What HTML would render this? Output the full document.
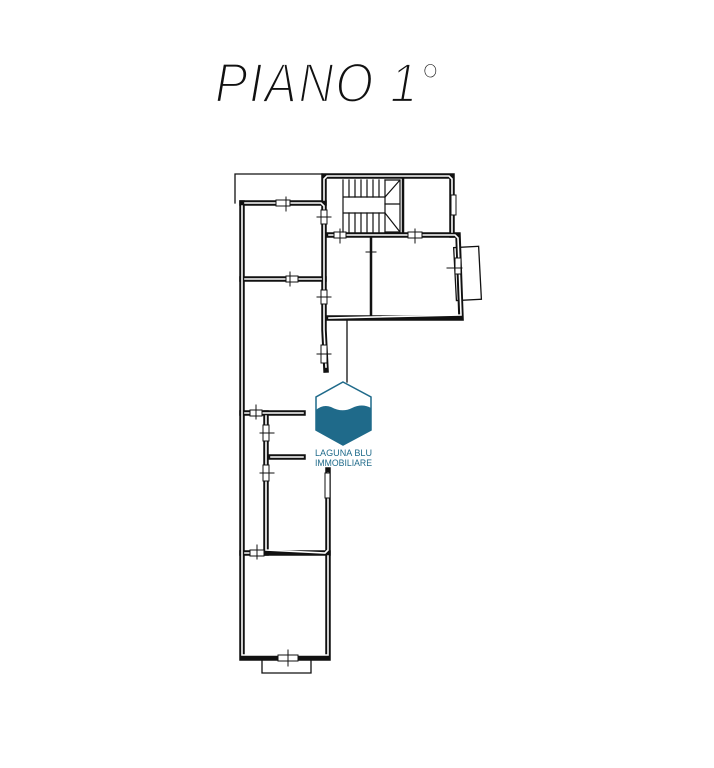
<!DOCTYPE html>
<html><head><meta charset="utf-8"><style>
html,body{margin:0;padding:0;background:#fff}
svg{display:block}
</style></head><body>
<svg width="714" height="768" viewBox="0 0 714 768" xmlns="http://www.w3.org/2000/svg">
<rect width="714" height="768" fill="#fff"/>
<text x="215" y="102" font-family="Liberation Sans, sans-serif" font-style="italic" font-size="56" textLength="225" lengthAdjust="spacingAndGlyphs" fill="#111" stroke="#fff" stroke-width="2.2" letter-spacing="2">PIANO 1°</text>

<g fill="none" stroke-linecap="square">
<g stroke="#111" stroke-width="1.3">
<path d="M235 174 L322 174 M235 174 L235 203"/>
<path d="M347 318 L347 382"/>
<rect x="455" y="247" width="25" height="53" transform="rotate(-3 467 273)"/>
<path d="M262 658 L262 673 L311 673 L311 658"/>
</g>
<g stroke="#111" stroke-width="5.5">
<path d="M242 203 L242 658 L328 658 L328 553"/>
<path d="M242 203 L324 203 L324 330 L326 370"/>
<path d="M324 203 L324 176 L452 176 L452 235"/>
<path d="M326 235 L458 235 L461 318 L326 318"/>
<path d="M242 279 L324 279"/>
<path d="M242 413 L303 413"/>
<path d="M266 413 L266 553 L328 553 L328 470"/>
<path d="M268 457 L303 457"/>
<path d="M242 553 L266 553"/>
</g>
<g stroke="#111" stroke-width="2.5">
<path d="M403 178 L403 233"/>
<path d="M371 238 L371 316"/>
</g>
<g stroke="#fff" stroke-width="1.6">
<path d="M242 206 L242 655 L328 655 L328 556"/>
<path d="M245 203 L321 203 L324 206 L324 330 L326 367"/>
<path d="M324 200 L324 179 L327 176 L449 176 L452 179 L452 232"/>
<path d="M329 235 L455 235 L458 238 L461 315 L329 318"/>
<path d="M245 279 L321 279"/>
<path d="M245 413 L303 413"/>
<path d="M266 416 L266 550 L325 553 L328 550 L328 473"/>
<path d="M271 457 L303 457"/>
<path d="M245 553 L263 553"/>
</g>
<g fill="#fff" stroke="#111" stroke-width="1">
<rect x="276" y="200" width="14" height="6"/>
<rect x="321" y="210" width="6" height="14"/>
<rect x="334" y="232" width="12" height="6"/>
<rect x="408" y="232" width="14" height="6"/>
<rect x="286" y="276" width="12" height="6"/>
<rect x="321" y="290" width="6" height="14"/>
<rect x="321" y="345" width="6" height="18"/>
<rect x="250" y="410" width="12" height="6"/>
<rect x="263" y="425" width="6" height="16"/>
<rect x="263" y="465" width="6" height="16"/>
<rect x="250" y="550" width="14" height="6"/>
<rect x="278" y="655" width="20" height="6"/>
<rect x="325" y="473" width="5" height="25"/>
<rect x="455" y="258" width="6" height="16"/>
<rect x="451" y="195" width="5" height="20"/>
</g>
<g stroke="#111" stroke-width="1">
<path d="M286 197 v14 M317 217 h14 M340 229 v14 M415 229 v14 M290 272 v14 M317 297 h14 M317 354 h14 M256 405 v14 M260 433 h14 M260 473 h14 M257 545 v14 M288 650 v16 M447 268 h15 M366 252 h10"/>
</g>
<g stroke="#111" stroke-width="1.2">
<path d="M343 180 L343 232 M343 197 L385 197 M343 213 L385 213 M385 197 L385 213"/>
<path d="M349 180 v17 M355 180 v17 M361 180 v17 M367 180 v17 M373 180 v17 M379 180 v17 M385 180 v17"/>
<path d="M349 213 v19 M355 213 v19 M361 213 v19 M367 213 v19 M373 213 v19 M379 213 v19 M385 213 v19"/>
<path d="M385 180 L400 180 L400 232 L385 232 M385 197 L400 180 M385 213 L400 232 M385 204 L400 204"/>
</g>
</g>

<polygon points="343,382 371,397 371,430 343,445 316,430 316,397" fill="none" stroke="#1f6a8a" stroke-width="1.5"/>
<path d="M316 410 Q323 404 331 407 Q342 413 352 408 Q362 403 371 408 L371 430 L343 445 L316 430 Z" fill="#1f6a8a"/>
<text x="315" y="456" font-family="Liberation Sans, sans-serif" font-size="9.5" fill="#1f6a8a" textLength="57" lengthAdjust="spacingAndGlyphs">LAGUNA BLU</text>
<text x="315" y="466" font-family="Liberation Sans, sans-serif" font-size="9.5" fill="#1f6a8a" textLength="57" lengthAdjust="spacingAndGlyphs">IMMOBILIARE</text>
</svg>
</body></html>
